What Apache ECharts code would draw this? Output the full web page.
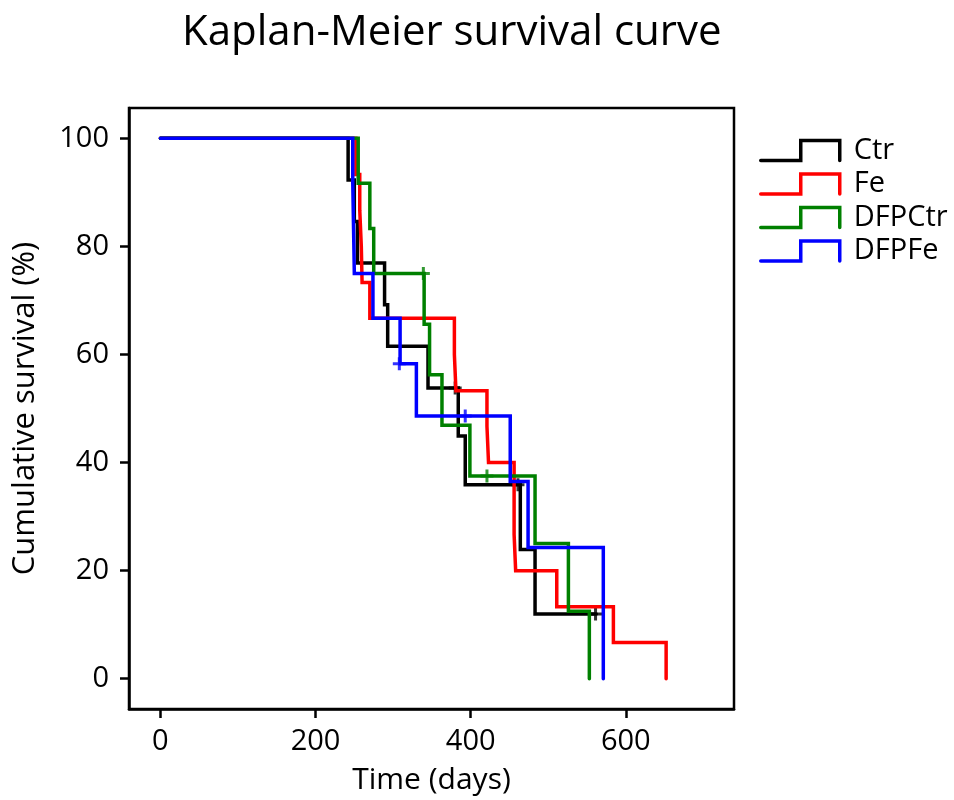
<!DOCTYPE html>
<html>
<head>
<meta charset="utf-8">
<script src="https://cdn.jsdelivr.net/npm/echarts@6/dist/echarts.min.js"></script>
<style>html,body{margin:0;padding:0;background:#fff}#chart{width:954px;height:800px}</style>
</head>
<body>
<div id="chart"></div>
<script>
// Step data: [day, cumulative survival %]
const ctr = [[0,100],[242,92.3],[250,84.6],[254,76.9],[289,69.2],[293,61.5],[345,53.8],[384,44.9],[393,35.9],[464,23.9],[483,12.0],[562,12.0]];
const ctrCensor = [[380,53.8],[461,35.9],[561,12.0]];
const fe = [[0,100],[252,93.3],[257,86.7],[259,80],[260,73.3],[270,66.7],[379,60],[381,53.3],[421,46.7],[423,40],[456,26.7],[458,20],[511,13.3],[584,6.7],[652,0]];
const feCensor = [];
const dfpCtr = [[0,100],[255,91.7],[270,83.3],[275,75],[340,65.6],[347,56.25],[363,46.9],[399,37.5],[483,25],[526,12.5],[553,0]];
const dfpCtrCensor = [[339,75],[421,37.5]];
const dfpFe = [[0,100],[248,91.7],[249,83.3],[250,75],[274,66.7],[309,58.3],[330,48.6],[451,36.5],[474,24.3],[571,0]];
const dfpFeCensor = [[308,58.3],[393,48.6]];
const xTicks = [0,200,400,600];
const yTicks = [0,20,40,60,80,100];
const groups = ['Ctr','Fe','DFPCtr','DFPFe'];
const colors = ['#000000','#ff0000','#008000','#0000ff'];

const FONT = 'Open Sans';
const lines = [ctr, fe, dfpCtr, dfpFe];
const censors = [ctrCensor, feCensor, dfpCtrCensor, dfpFeCensor];
const plus = 'path://M0,6 L12,6 M6,0 L6,12';
const legendIcon = 'path://M0,20 L40,20 L40,0 L79,0 L79,20';

const series = [];
groups.forEach((g, i) => {
  series.push({
    name: g, type: 'line', step: 'end', data: lines[i], showSymbol: false, symbol: 'none',
    lineStyle: {color: colors[i], width: 3.5, cap: 'round', join: 'miter'},
    itemStyle: {color: colors[i]}, animation: false, silent: true
  });
  series.push({
    name: g + ' censored', type: 'scatter', data: censors[i], symbol: plus, symbolSize: 13,
    itemStyle: {color: 'rgba(0,0,0,0)', borderColor: colors[i], borderWidth: 3},
    animation: false, silent: true
  });
});

const chart = echarts.init(document.getElementById('chart'), null, {renderer: 'canvas'});
chart.setOption({
  backgroundColor: '#ffffff',
  animation: false,
  title: {
    text: 'Kaplan-Meier survival curve', left: 182, top: 12, padding: 0,
    textStyle: {fontFamily: FONT, fontSize: 42, fontWeight: 'normal', color: '#000'}
  },
  legend: {
    orient: 'vertical', left: 759, top: 136, padding: 0, itemWidth: 79, itemHeight: 20, itemGap: 4.5,
    textStyle: {fontFamily: FONT, fontSize: 29, color: '#000', padding: [0,0,0,9]},
    data: groups.map((g, i) => ({
      name: g, icon: legendIcon,
      itemStyle: {color: 'rgba(0,0,0,0)', borderColor: colors[i], borderWidth: 3.5, borderJoin: 'miter', borderCap: 'round'}
    }))
  },
  grid: {left: 129, right: 220, top: 108, bottom: 88, show: true, borderColor: '#000', borderWidth: 2.5, backgroundColor: 'rgba(0,0,0,0)'},
  xAxis: {
    type: 'value', min: -40.5, max: 739.5,
    name: 'Time (days)', nameLocation: 'middle', nameGap: 56,
    nameTextStyle: {fontFamily: FONT, fontSize: 30, color: '#000'},
    axisLine: {show: true, onZero: false, lineStyle: {color: '#000', width: 2.5}},
    axisTick: {show: true, inside: false, length: 9, lineStyle: {color: '#000', width: 2.5}, customValues: xTicks},
    axisLabel: {customValues: xTicks, fontFamily: FONT, fontSize: 29, color: '#000', margin: 18},
    splitLine: {show: false}
  },
  yAxis: {
    type: 'value', min: -5.6, max: 105.6,
    name: 'Cumulative survival (%)', nameLocation: 'middle', nameGap: 88,
    nameTextStyle: {fontFamily: FONT, fontSize: 31, color: '#000'},
    axisLine: {show: true, onZero: false, lineStyle: {color: '#000', width: 2.5}},
    axisTick: {show: true, inside: false, length: 9, lineStyle: {color: '#000', width: 2.5}, customValues: yTicks},
    axisLabel: {customValues: yTicks, fontFamily: FONT, fontSize: 29, color: '#000', margin: 20},
    splitLine: {show: false}
  },
  series: series
});
</script>
</body>
</html>
